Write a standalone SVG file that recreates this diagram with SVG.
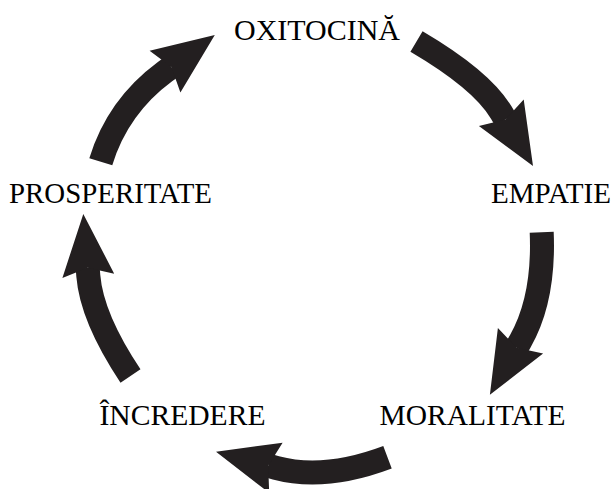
<svg xmlns="http://www.w3.org/2000/svg" width="612" height="489" viewBox="0 0 612 489">
  <style>
    .lbl { font-family: "Liberation Serif", "Times New Roman", serif; font-size: 29px; fill: #000; }
    .body { fill: none; stroke: #231f20; stroke-width: 24; stroke-linecap: butt; stroke-linejoin: miter; }
    .head { fill: #231f20; stroke: none; }
  </style>
  <rect width="612" height="489" fill="#fff"/>
  <g id="connectors">
    <g id="arrow-oxitocina-empatie">
      <path class="body" d="M416.5,41.5 Q481.8,79.9 501.3,112.7 L505.4,119.6"/>
      <polygon class="head" points="523.7,99.4 533,166 478.9,126 505.4,119.6"/>
    </g>
    <g id="arrow-empatie-moralitate">
      <path class="body" d="M541.7,232.2 Q544.5,298.4 520.5,340.8 L516.6,347.8"/>
      <polygon class="head" points="543.1,353.6 489.9,394.7 497.9,328 516.6,347.8"/>
    </g>
    <g id="arrow-moralitate-incredere">
      <path class="body" d="M387.5,457.2 Q324.6,480.9 275.9,467.8 L268.2,465.7"/>
      <polygon class="head" points="282.6,442.7 216,451.7 269.2,492.9 268.2,465.7"/>
    </g>
    <g id="arrow-incredere-prosperitate">
      <path class="body" d="M130.5,376 Q91.7,317.8 88.3,275.8 L87.7,267.8"/>
      <polygon class="head" points="114.2,273.7 83.3,214 62.4,277.9 87.7,267.8"/>
    </g>
    <g id="arrow-prosperitate-oxitocina">
      <path class="body" d="M100.8,161.7 Q117.8,106.5 165,71.7 L171.4,67"/>
      <polygon class="head" points="180.4,92.6 214.8,34.9 149.6,50.8 171.4,67"/>
    </g>
  </g>
  <g id="node-oxitocina"><text class="lbl" x="234" y="39.5" textLength="166" lengthAdjust="spacingAndGlyphs">OXITOCINĂ</text></g>
  <g id="node-empatie"><text class="lbl" x="491" y="202.5" textLength="120" lengthAdjust="spacingAndGlyphs">EMPATIE</text></g>
  <g id="node-moralitate"><text class="lbl" x="379.5" y="424.5" textLength="186" lengthAdjust="spacingAndGlyphs">MORALITATE</text></g>
  <g id="node-incredere"><text class="lbl" x="99.5" y="424.5" textLength="166" lengthAdjust="spacingAndGlyphs">ÎNCREDERE</text></g>
  <g id="node-prosperitate"><text class="lbl" x="9" y="203" textLength="203" lengthAdjust="spacingAndGlyphs">PROSPERITATE</text></g>
</svg>
